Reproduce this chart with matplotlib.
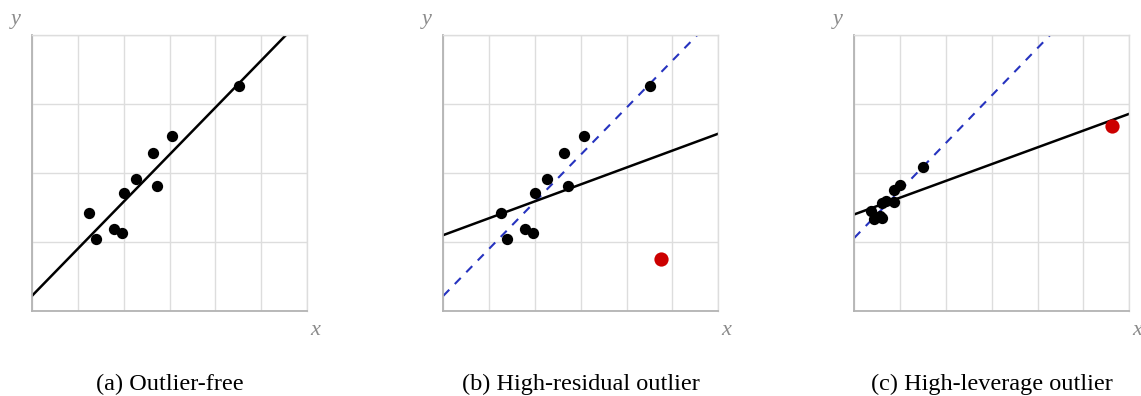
import matplotlib
matplotlib.use("Agg")
import matplotlib.pyplot as plt
import numpy as np

# Punkter lest fra figuren (data-enheter, rutenett 6 x 4)
pts_x = [1.25, 1.40, 1.78, 1.96, 2.01, 2.26, 2.64, 2.73, 3.06, 4.52]
pts_y = [1.42, 1.04, 1.19, 1.13, 1.71, 1.92, 2.29, 1.81, 2.53, 3.26]

resid_outlier = (4.74, 0.75)

lev_x = [0.37, 0.42, 0.55, 0.61, 0.61, 0.69, 0.86, 0.87, 0.99, 1.49]
lev_y = [1.45, 1.33, 1.38, 1.35, 1.56, 1.59, 1.75, 1.58, 1.83, 2.08]
lev_outlier = (5.62, 2.68)

# Regresjonslinjer (skjæringspunkt, stigning)
fit_clean = (0.22, 0.682)
fit_resid = (1.10, 0.245)
fit_lev = (1.40, 0.243)
fit_lev_clean = (1.06, 0.688)

captions = ["(a) Outlier-free", "(b) High-residual outlier", "(c) High-leverage outlier"]
lefts = [32, 443.3, 854.3]

W, H = 1141, 396
fig = plt.figure(figsize=(W / 100, H / 100), dpi=100)

serif = ["Liberation Serif", "DejaVu Serif"]
grid_col = "#dddddd"
axis_col = "#b3b3b3"
label_col = "#8c8c8c"
blue = "#2633bf"
red = "#cc0000"


def draw_line(ax, fit, **kw):
    xs = np.linspace(0, 6, 200)
    ax.plot(xs, fit[0] + fit[1] * xs, **kw)


axes = []
for i, left in enumerate(lefts):
    ax = fig.add_axes([left / W, (H - 311) / H, 275 / W, 276 / H])
    ax.set_xlim(0, 6)
    ax.set_ylim(0, 4)
    ax.set_xticks(range(7))
    ax.set_yticks(range(5))
    ax.set_xticklabels([])
    ax.set_yticklabels([])
    ax.tick_params(length=0)
    ax.grid(True, color=grid_col, linewidth=1.0)
    ax.set_axisbelow(True)
    for s in ["top", "right"]:
        ax.spines[s].set_color(grid_col)
        ax.spines[s].set_linewidth(1.0)
    for s in ["left", "bottom"]:
        ax.spines[s].set_color(axis_col)
        ax.spines[s].set_linewidth(1.3)
    ax.text(-0.06, 1.055, "y", transform=ax.transAxes, fontsize=16, color=label_col,
            family=serif, style="italic", ha="center", va="center")
    ax.text(1.03, -0.072, "x", transform=ax.transAxes, fontsize=16, color=label_col,
            family=serif, style="italic", ha="center", va="center")
    fig.text((left + 137.5) / W, 1 - 384 / H, captions[i], fontsize=17.5,
             family=serif, ha="center", va="center")
    axes.append(ax)

dash = dict(color=blue, linewidth=1.5, dashes=(4.1, 3.8))
solid = dict(color="black", linewidth=1.8)

# (a)
ax = axes[0]
draw_line(ax, fit_clean, **solid)
ax.scatter(pts_x, pts_y, s=66, color="black", zorder=3, linewidths=0)

# (b)
ax = axes[1]
draw_line(ax, fit_clean, **dash)
draw_line(ax, fit_resid, **solid)
ax.scatter(pts_x, pts_y, s=66, color="black", zorder=3, linewidths=0)
ax.scatter([resid_outlier[0]], [resid_outlier[1]], s=105, color=red, zorder=3, linewidths=0)

# (c)
ax = axes[2]
draw_line(ax, fit_lev_clean, **dash)
draw_line(ax, fit_lev, **solid)
ax.scatter(lev_x, lev_y, s=66, color="black", zorder=3, linewidths=0)
ax.scatter([lev_outlier[0]], [lev_outlier[1]], s=105, color=red, zorder=3, linewidths=0)

fig.savefig("out.png", dpi=100)
